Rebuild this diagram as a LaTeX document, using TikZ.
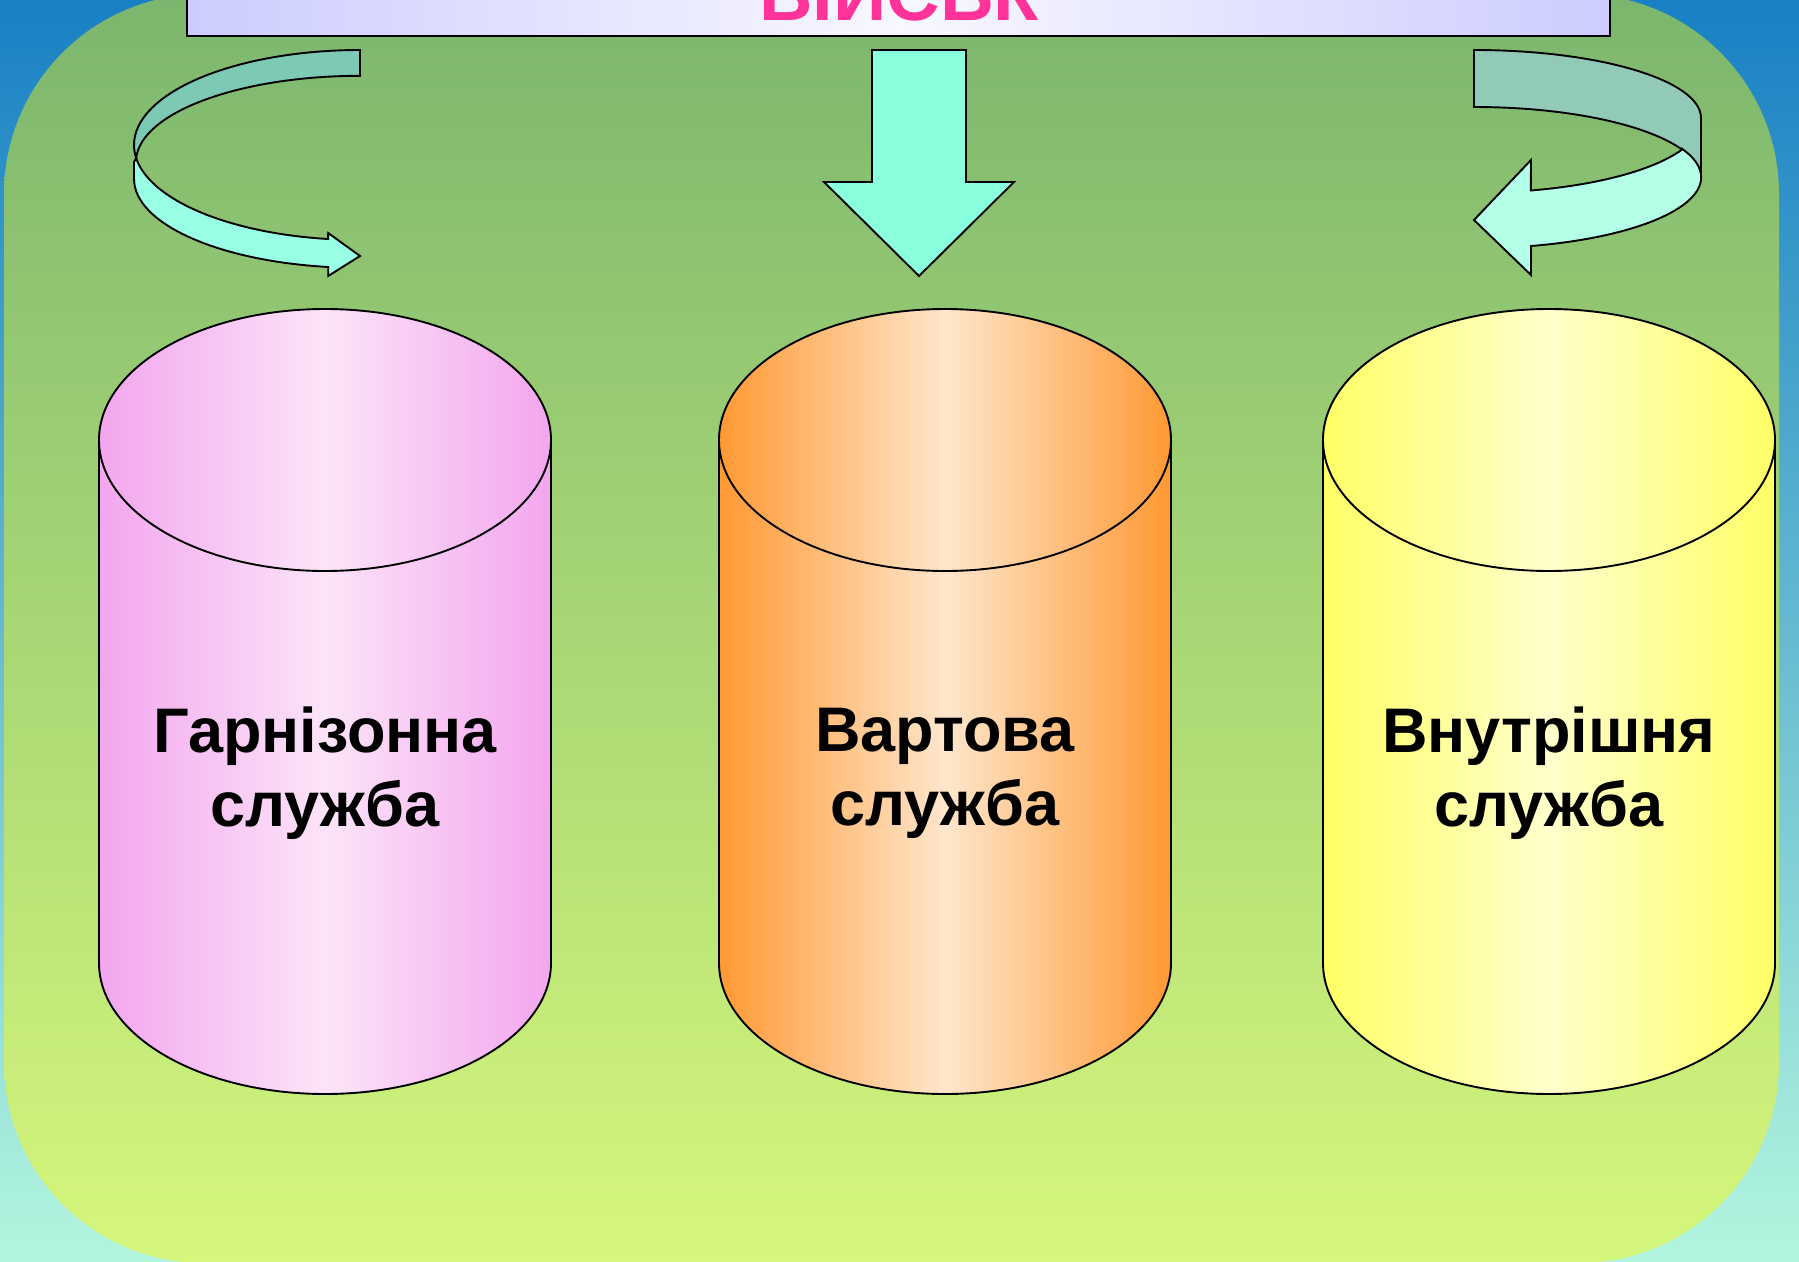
\documentclass[tikz,border=0pt]{standalone}
\usepackage{fontspec}
\setmainfont{Liberation Sans}
\definecolor{bgtop}{RGB}{24,128,196}
\definecolor{bgbot}{RGB}{179,245,222}
\definecolor{grtop}{RGB}{123,182,110}
\definecolor{grbot}{RGB}{214,247,124}
\definecolor{tiedge}{RGB}{204,204,255}
\definecolor{timid}{RGB}{248,248,255}
\definecolor{tipink}{RGB}{255,51,153}
\definecolor{pinkE}{RGB}{243,166,238}
\definecolor{pinkC}{RGB}{252,228,248}
\definecolor{orE}{RGB}{255,153,51}
\definecolor{orC}{RGB}{255,230,204}
\definecolor{yeE}{RGB}{255,255,102}
\definecolor{yeC}{RGB}{255,255,204}
\definecolor{arrmid}{RGB}{138,255,222}
\definecolor{ladark}{RGB}{125,202,180}
\definecolor{lalight}{RGB}{153,255,228}
\definecolor{radark}{RGB}{146,202,184}
\definecolor{ralight}{RGB}{179,255,232}
\newcommand\mycyl[3]{%
  \shadedraw[left color=#2, right color=#2, middle color=#3, outline]
    (#1-226,440) -- (#1-226,963) arc[start angle=180, end angle=0, x radius=226, y radius=131] -- (#1+226,440) -- cycle;
  \shadedraw[left color=#2, right color=#2, middle color=#3, outline]
    (#1,440) ellipse[x radius=226, y radius=131];
}
\begin{document}
\begin{tikzpicture}[x=1pt,y=-1pt,
  outline/.style={draw=black, line width=1.9pt, line join=miter},
  cyltext/.style={font=\bfseries\fontsize{63}{74}\selectfont, align=center, text=black, inner sep=0pt},
]
\clip (0,0) rectangle (1799,1261);
% background
\shade[top color=bgtop, bottom color=bgbot] (0,0) rectangle (1799,1261);
\shade[top color=grtop, bottom color=grbot, rounded corners=200pt] (4,-6) rectangle (1779,1263);
% title box
\shadedraw[left color=tiedge, right color=tiedge, middle color=timid, outline] (187,-100) rectangle (1610,36);
\node[anchor=base, text=tipink, font=\bfseries\fontsize{74}{84}\selectfont, inner sep=0pt] (title) at (899,20) {ВІЙСЬК};
% left curved arrow
\filldraw[outline, fill=ladark] (360,50)
  arc[start angle=270, end angle=172, x radius=226, y radius=95]
  arc[start angle=182.4, end angle=270, x radius=224, y radius=86] -- cycle;
\filldraw[outline, fill=lalight] (136.2,158.2)
  arc[start angle=172, end angle=98.1, x radius=226, y radius=95]
  -- (328.2,233) -- (360,256) -- (328.2,276) -- (328.2,267)
  arc[start angle=98.1, end angle=180, x radius=226, y radius=89]
  -- (134,162) -- cycle;
% middle arrow
\filldraw[outline, fill=arrmid] (872,50) -- (966,50) -- (966,182) -- (1014,182) -- (919,276) -- (824,182) -- (872,182) -- cycle;
% right curved arrow
\filldraw[outline, fill=radark] (1474,50)
  arc[start angle=270, end angle=360, x radius=227, y radius=68]
  -- (1701,178)
  arc[start angle=0, end angle=-90, x radius=227, y radius=71] -- cycle;
\filldraw[outline, fill=ralight] (1682,149.6)
  arc[start angle=23.6, end angle=75.5, x radius=227, y radius=72]
  -- (1531,160) -- (1474,220) -- (1531,275) -- (1531,246)
  arc[start angle=75.5, end angle=0, x radius=227, y radius=71]
  arc[start angle=0, end angle=-23.6, x radius=227, y radius=71] -- cycle;
% cylinders
\mycyl{325}{pinkE}{pinkC}
\mycyl{945}{orE}{orC}
\mycyl{1549}{yeE}{yeC}
\node[cyltext] (t1) at (325,773) {Гарнізонна\\служба};
\node[cyltext] (t2) at (945,773) {Вартова\\служба};
\node[cyltext] (t3) at (1549,773) {Внутрішня\\служба};
\end{tikzpicture}
\end{document}
